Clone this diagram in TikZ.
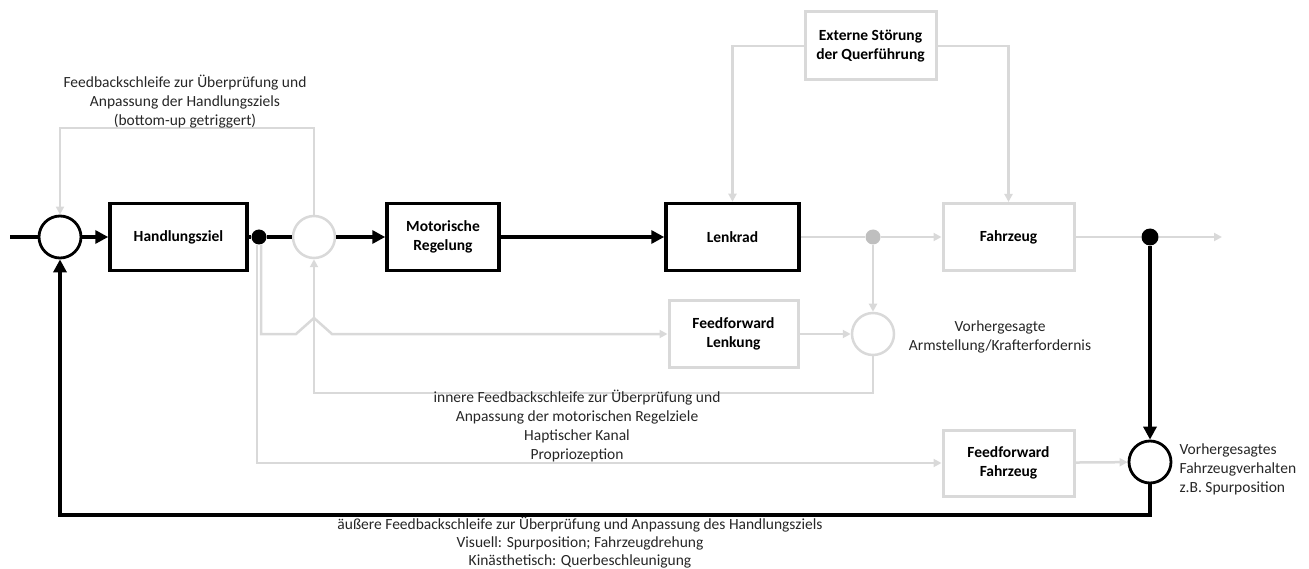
\documentclass[tikz,border=0pt]{standalone}
\usepackage{fontspec}
\setmainfont{Carlito}
\usetikzlibrary{arrows.meta, positioning, calc}

\definecolor{lightg}{HTML}{D9D9D9}
\definecolor{dotg}{HTML}{BFBFBF}
\definecolor{txtg}{HTML}{262626}

\tikzset{
  blackbox/.style={draw, line width=3.5pt, minimum width=#1, minimum height=67pt, font=\fontsize{15.5}{19}\selectfont\bfseries, align=center},
  graybox/.style={draw=lightg, line width=3pt, fill=white, minimum width=#1, minimum height=67pt, font=\fontsize{15.5}{19}\selectfont\bfseries, align=center},
  sumblack/.style={circle, draw, line width=2.8pt, minimum size=42pt, inner sep=0pt},
  sumgray/.style={circle, draw=lightg, line width=2.5pt, minimum size=42pt, inner sep=0pt},
  dot/.style={circle, fill=#1, minimum size=15pt, inner sep=0pt},
  bline/.style={line width=4pt},
  barrow/.style={line width=4pt, -{Triangle[length=13pt, width=13pt]}},
  gline/.style={draw=lightg, line width=2.5pt},
  garrow/.style={draw=lightg, line width=2.5pt, -{Triangle[length=8pt, width=8pt]}},
  note/.style={text=txtg, align=center}
}

\begin{document}
\begin{tikzpicture}[x=1pt, y=-1pt, font=\fontsize{15.5}{19}\selectfont]

        \useasboundingbox (0,0) rectangle (1309,569);

        % Main chain
        \coordinate (in) at (10,237);
        \node[sumblack] (s1) at (60,237) {};
        \node[blackbox=137pt] (hz) at (178.5,237) {Handlungsziel};
        \node[dot=black] (d1) at (259,237) {};
        \node[sumgray] (s2) at (314,237) {};
        \node[blackbox=112pt] (mr) at (443,237) {Motorische\\Regelung};
        \node[blackbox=133pt] (lr) at (732.5,237) {Lenkrad};
        \node[dot=dotg] (d2) at (873,237) {};
        \node[graybox=131pt] (fz) at (1008.5,237) {Fahrzeug};
        \node[dot=black, minimum size=17pt] (d3) at (1150,237) {};
        \coordinate (out) at (1222,237);

        \draw[bline] (in) -- (s1);
        \draw[barrow] (s1) -- (hz);
        \draw[bline] (hz) -- (d1) -- (s2);
        \draw[barrow] (s2) -- (mr);
        \draw[barrow] (mr) -- (lr);
        \draw[gline] (lr) -- (d2);
        \draw[garrow] (d2) -- (fz);
        \draw[gline] (fz) -- (d3);
        \draw[garrow] (d3) -- (out);

        % Externe Stoerung
        \node[graybox=131pt, minimum height=68pt] (es) at (870.5,46) {Externe Störung\\der Querführung};
        \draw[garrow] (es.west) -| (lr.north);
        \draw[garrow] (es.east) -| (fz.north);

        % Feedback oben (bottom-up)
        \coordinate (ftop) at (60,128);
        \draw[garrow] (s2.north) |- (ftop) -- (s1.north);
        \node[note] (lbltop) at (185,102) {Feedbackschleife zur Überprüfung und\\Anpassung der Handlungsziels\\(bottom-up getriggert)};

        % Feedforward Lenkung
        \node[graybox=129pt] (ffl) at (733.5,334) {Feedforward\\Lenkung};
        \node[sumgray] (s3) at (873,334) {};
        \draw[garrow] (d2) -- (s3);
        \draw[garrow] (ffl) -- (s3);
        \coordinate (j1) at (296,334);
        \draw[garrow] ([xshift=2pt]d1.south) |- (j1) -- ++(18,-16) -- ++(18,16) -- (ffl.west);
        \node[note] (lblarm) at (1000,337) {Vorhergesagte\\Armstellung/Krafterfordernis};

        % innere Feedbackschleife
        \coordinate (inr) at (314,393);
        \draw[garrow] (s3.south) |- (inr) -- (s2.south);
        \node[note] (lblinner) at (577,426) {innere Feedbackschleife zur Überprüfung und\\Anpassung der motorischen Regelziele\\Haptischer Kanal\\Propriozeption};

        % Feedforward Fahrzeug
        \node[graybox=131pt, minimum height=66pt] (fff) at (1008.5,463) {Feedforward\\Fahrzeug};
        \node[sumblack] (s4) at (1150,462) {};
        \draw[garrow] ([xshift=-2pt]d1.south) |- (fff.west);
        \draw[garrow] (fff) -- (s4);
        \draw[barrow] (d3) -- (s4);
        \node[note, align=left, anchor=west] (lblfz) at (1176,469) {Vorhergesagtes\\Fahrzeugverhalten\\z.B. Spurposition};

        % aeussere Feedbackschleife
        \coordinate (outr) at (60,515);
        \draw[barrow] (s4.south) |- (outr) -- (s1.south);
        \node[note, font=\fontsize{15.5}{18}\selectfont] (lblouter) at (580,543) {äußere Feedbackschleife zur Überprüfung und Anpassung des Handlungsziels\\Visuell: Spurposition; Fahrzeugdrehung\\Kinästhetisch: Querbeschleunigung};

    \end{tikzpicture}
\end{document}
